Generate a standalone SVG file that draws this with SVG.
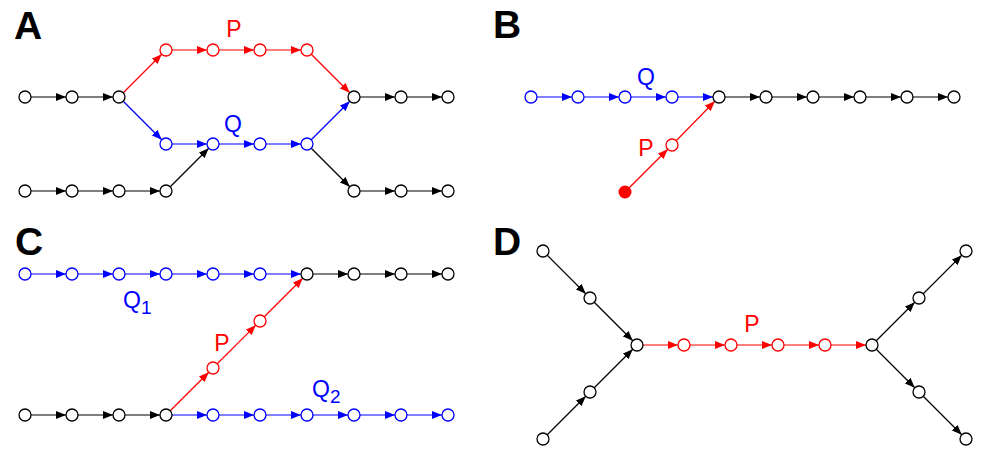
<svg xmlns="http://www.w3.org/2000/svg" width="992" height="456" viewBox="0 0 992 456">
<style>
.n{stroke-width:1.3;fill:#fff}
.k{stroke:#000}.r{stroke:#f00}.b{stroke:#00f}
.e line{stroke-width:1.2}
.panel{font-family:"Liberation Sans",Arial,sans-serif;font-weight:bold;font-size:39px;fill:#000}
.lbl{font-family:"Liberation Sans",Arial,sans-serif;font-size:23px}
.tr{fill:#f00}.tb{fill:#00f}
</style>
<defs>
<marker id="mk" markerWidth="10" markerHeight="8" refX="16" refY="4" orient="auto" markerUnits="userSpaceOnUse"><path d="M0,0L10,4L0,8z" fill="#000"/></marker>
<marker id="mr" markerWidth="10" markerHeight="8" refX="16" refY="4" orient="auto" markerUnits="userSpaceOnUse"><path d="M0,0L10,4L0,8z" fill="#f00"/></marker>
<marker id="mb" markerWidth="10" markerHeight="8" refX="16" refY="4" orient="auto" markerUnits="userSpaceOnUse"><path d="M0,0L10,4L0,8z" fill="#00f"/></marker>
</defs>
<g id="connectors" class="e">
<g class="k" marker-end="url(#mk)">
<line x1="25" y1="97" x2="72" y2="97"/><line x1="72" y1="97" x2="119" y2="97"/>
<line x1="25" y1="191" x2="72" y2="191"/><line x1="72" y1="191" x2="119" y2="191"/><line x1="119" y1="191" x2="166" y2="191"/><line x1="166" y1="191" x2="213" y2="144"/>
<line x1="354" y1="97" x2="401" y2="97"/><line x1="401" y1="97" x2="448" y2="97"/>
<line x1="307" y1="144" x2="354" y2="191"/><line x1="354" y1="191" x2="401" y2="191"/><line x1="401" y1="191" x2="448" y2="191"/>
<line x1="719" y1="97" x2="766" y2="97"/><line x1="766" y1="97" x2="813" y2="97"/><line x1="813" y1="97" x2="860" y2="97"/><line x1="860" y1="97" x2="907" y2="97"/><line x1="907" y1="97" x2="954" y2="97"/>
<line x1="307" y1="274" x2="354" y2="274"/><line x1="354" y1="274" x2="401" y2="274"/><line x1="401" y1="274" x2="448" y2="274"/>
<line x1="25" y1="415" x2="72" y2="415"/><line x1="72" y1="415" x2="119" y2="415"/><line x1="119" y1="415" x2="166" y2="415"/>
<line x1="543" y1="251" x2="590" y2="298"/><line x1="590" y1="298" x2="637" y2="345"/>
<line x1="543" y1="439" x2="590" y2="392"/><line x1="590" y1="392" x2="637" y2="345"/>
<line x1="872" y1="345" x2="919" y2="298"/><line x1="919" y1="298" x2="966" y2="251"/>
<line x1="872" y1="345" x2="919" y2="392"/><line x1="919" y1="392" x2="966" y2="439"/>
</g>
<g class="r" marker-end="url(#mr)">
<line x1="119" y1="97" x2="166" y2="50"/><line x1="166" y1="50" x2="213" y2="50"/><line x1="213" y1="50" x2="260" y2="50"/><line x1="260" y1="50" x2="307" y2="50"/><line x1="307" y1="50" x2="354" y2="97"/>
<line x1="625" y1="192" x2="672" y2="145"/><line x1="672" y1="145" x2="719" y2="97"/>
<line x1="166" y1="415" x2="213" y2="368"/><line x1="213" y1="368" x2="260" y2="321"/><line x1="260" y1="321" x2="307" y2="274"/>
<line x1="637" y1="345" x2="684" y2="345"/><line x1="684" y1="345" x2="731" y2="345"/><line x1="731" y1="345" x2="778" y2="345"/><line x1="778" y1="345" x2="825" y2="345"/><line x1="825" y1="345" x2="872" y2="345"/>
</g>
<g class="b" marker-end="url(#mb)">
<line x1="119" y1="97" x2="166" y2="144"/><line x1="166" y1="144" x2="213" y2="144"/><line x1="213" y1="144" x2="260" y2="144"/><line x1="260" y1="144" x2="307" y2="144"/><line x1="307" y1="144" x2="354" y2="97"/>
<line x1="531" y1="97" x2="578" y2="97"/><line x1="578" y1="97" x2="625" y2="97"/><line x1="625" y1="97" x2="672" y2="97"/><line x1="672" y1="97" x2="719" y2="97"/>
<line x1="25" y1="274" x2="72" y2="274"/><line x1="72" y1="274" x2="119" y2="274"/><line x1="119" y1="274" x2="166" y2="274"/><line x1="166" y1="274" x2="213" y2="274"/><line x1="213" y1="274" x2="260" y2="274"/><line x1="260" y1="274" x2="307" y2="274"/>
<line x1="166" y1="415" x2="213" y2="415"/><line x1="213" y1="415" x2="260" y2="415"/><line x1="260" y1="415" x2="307" y2="415"/><line x1="307" y1="415" x2="354" y2="415"/><line x1="354" y1="415" x2="401" y2="415"/><line x1="401" y1="415" x2="448" y2="415"/>
</g>
</g>
<!-- Panel A nodes -->
<g id="A-a1"><circle class="n k" cx="25" cy="97" r="6"/></g>
<g id="A-a2"><circle class="n k" cx="72" cy="97" r="6"/></g>
<g id="A-a3"><circle class="n k" cx="119" cy="97" r="6"/></g>
<g id="A-p1"><circle class="n r" cx="166" cy="50" r="6"/></g>
<g id="A-p2"><circle class="n r" cx="213" cy="50" r="6"/></g>
<g id="A-p3"><circle class="n r" cx="260" cy="50" r="6"/></g>
<g id="A-p4"><circle class="n r" cx="307" cy="50" r="6"/></g>
<g id="A-q1"><circle class="n b" cx="166" cy="144" r="6"/></g>
<g id="A-q2"><circle class="n b" cx="213" cy="144" r="6"/></g>
<g id="A-q3"><circle class="n b" cx="260" cy="144" r="6"/></g>
<g id="A-q4"><circle class="n b" cx="307" cy="144" r="6"/></g>
<g id="A-m"><circle class="n k" cx="354" cy="97" r="6"/></g>
<g id="A-m2"><circle class="n k" cx="401" cy="97" r="6"/></g>
<g id="A-m3"><circle class="n k" cx="448" cy="97" r="6"/></g>
<g id="A-b1"><circle class="n k" cx="25" cy="191" r="6"/></g>
<g id="A-b2"><circle class="n k" cx="72" cy="191" r="6"/></g>
<g id="A-b3"><circle class="n k" cx="119" cy="191" r="6"/></g>
<g id="A-b4"><circle class="n k" cx="166" cy="191" r="6"/></g>
<g id="A-c1"><circle class="n k" cx="354" cy="191" r="6"/></g>
<g id="A-c2"><circle class="n k" cx="401" cy="191" r="6"/></g>
<g id="A-c3"><circle class="n k" cx="448" cy="191" r="6"/></g>
<!-- Panel B nodes -->
<g id="B-q1"><circle class="n b" cx="531" cy="97" r="6"/></g>
<g id="B-q2"><circle class="n b" cx="578" cy="97" r="6"/></g>
<g id="B-q3"><circle class="n b" cx="625" cy="97" r="6"/></g>
<g id="B-q4"><circle class="n b" cx="672" cy="97" r="6"/></g>
<g id="B-m"><circle class="n k" cx="719" cy="97" r="6"/></g>
<g id="B-m2"><circle class="n k" cx="766" cy="97" r="6"/></g>
<g id="B-m3"><circle class="n k" cx="813" cy="97" r="6"/></g>
<g id="B-m4"><circle class="n k" cx="860" cy="97" r="6"/></g>
<g id="B-m5"><circle class="n k" cx="907" cy="97" r="6"/></g>
<g id="B-m6"><circle class="n k" cx="954" cy="97" r="6"/></g>
<g id="B-p0"><circle cx="625" cy="192" r="6.5" fill="#f00"/></g>
<g id="B-p1"><circle class="n r" cx="672" cy="145" r="6"/></g>
<!-- Panel C nodes -->
<g id="C-t1"><circle class="n b" cx="25" cy="274" r="6"/></g>
<g id="C-t2"><circle class="n b" cx="72" cy="274" r="6"/></g>
<g id="C-t3"><circle class="n b" cx="119" cy="274" r="6"/></g>
<g id="C-t4"><circle class="n b" cx="166" cy="274" r="6"/></g>
<g id="C-t5"><circle class="n b" cx="213" cy="274" r="6"/></g>
<g id="C-t6"><circle class="n b" cx="260" cy="274" r="6"/></g>
<g id="C-t7"><circle class="n k" cx="307" cy="274" r="6"/></g>
<g id="C-t8"><circle class="n k" cx="354" cy="274" r="6"/></g>
<g id="C-t9"><circle class="n k" cx="401" cy="274" r="6"/></g>
<g id="C-t10"><circle class="n k" cx="448" cy="274" r="6"/></g>
<g id="C-b1"><circle class="n k" cx="25" cy="415" r="6"/></g>
<g id="C-b2"><circle class="n k" cx="72" cy="415" r="6"/></g>
<g id="C-b3"><circle class="n k" cx="119" cy="415" r="6"/></g>
<g id="C-b4"><circle class="n k" cx="166" cy="415" r="6"/></g>
<g id="C-b5"><circle class="n b" cx="213" cy="415" r="6"/></g>
<g id="C-b6"><circle class="n b" cx="260" cy="415" r="6"/></g>
<g id="C-b7"><circle class="n b" cx="307" cy="415" r="6"/></g>
<g id="C-b8"><circle class="n b" cx="354" cy="415" r="6"/></g>
<g id="C-b9"><circle class="n b" cx="401" cy="415" r="6"/></g>
<g id="C-b10"><circle class="n b" cx="448" cy="415" r="6"/></g>
<g id="C-p1"><circle class="n r" cx="213" cy="368" r="6"/></g>
<g id="C-p2"><circle class="n r" cx="260" cy="321" r="6"/></g>
<!-- Panel D nodes -->
<g id="D-u1"><circle class="n k" cx="543" cy="251" r="6"/></g>
<g id="D-u2"><circle class="n k" cx="590" cy="298" r="6"/></g>
<g id="D-l1"><circle class="n k" cx="543" cy="439" r="6"/></g>
<g id="D-l2"><circle class="n k" cx="590" cy="392" r="6"/></g>
<g id="D-c1"><circle class="n k" cx="637" cy="345" r="6"/></g>
<g id="D-p1"><circle class="n r" cx="684" cy="345" r="6"/></g>
<g id="D-p2"><circle class="n r" cx="731" cy="345" r="6"/></g>
<g id="D-p3"><circle class="n r" cx="778" cy="345" r="6"/></g>
<g id="D-p4"><circle class="n r" cx="825" cy="345" r="6"/></g>
<g id="D-c2"><circle class="n k" cx="872" cy="345" r="6"/></g>
<g id="D-ur1"><circle class="n k" cx="919" cy="298" r="6"/></g>
<g id="D-ur2"><circle class="n k" cx="966" cy="251" r="6"/></g>
<g id="D-lr1"><circle class="n k" cx="919" cy="392" r="6"/></g>
<g id="D-lr2"><circle class="n k" cx="966" cy="439" r="6"/></g>
<!-- Labels -->
<g id="labels">
<text class="panel" x="14" y="39">A</text>
<text class="panel" x="493" y="38">B</text>
<text class="panel" x="15" y="255">C</text>
<text class="panel" x="493" y="255">D</text>
<text class="lbl tr" x="234" y="37" text-anchor="middle">P</text>
<text class="lbl tb" x="233" y="132" text-anchor="middle">Q</text>
<text class="lbl tb" x="646" y="85" text-anchor="middle">Q</text>
<text class="lbl tr" x="646" y="156" text-anchor="middle">P</text>
<text class="lbl tb" x="123" y="308">Q<tspan font-size="19" dy="6">1</tspan></text>
<text class="lbl tr" x="222" y="351" text-anchor="middle">P</text>
<text class="lbl tb" x="312" y="397">Q<tspan font-size="19" dy="6">2</tspan></text>
<text class="lbl tr" x="752" y="332" text-anchor="middle">P</text>
</g>
</svg>
